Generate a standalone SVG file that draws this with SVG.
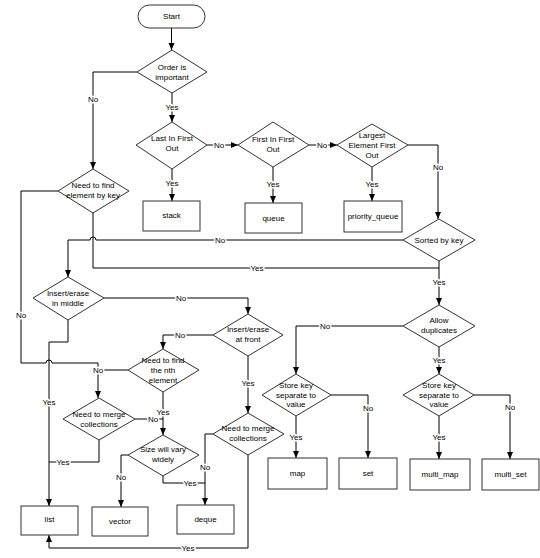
<svg xmlns="http://www.w3.org/2000/svg" width="540" height="558" viewBox="0 0 540 558">
<style>
text{font-family:"Liberation Sans",Arial,sans-serif;font-size:8px;fill:#000;text-anchor:middle}
.s{fill:#fff;stroke:#333;stroke-width:1}
.c{fill:none;stroke:#000;stroke-width:1}
.a{marker-end:url(#ah)}
.l{paint-order:stroke;stroke:#fff;stroke-width:3px;stroke-linejoin:round}
</style>
<defs>
<marker id="ah" markerUnits="userSpaceOnUse" markerWidth="7" markerHeight="7" viewBox="0 0 7 7" refX="7" refY="3.5" orient="auto">
<path d="M0,0.5 L7,3.5 L0,6.5 Z" fill="#000"/>
</marker>
</defs>
<rect width="540" height="558" fill="#fff"/>
<g id="connectors">
<path class="c a" d="M171.5 28 V50"/>
<path class="c a" d="M137 72 H93 V169"/>
<path class="c a" d="M172 93 V122"/>
<path class="c a" d="M207 145 H238"/>
<path class="c a" d="M309 145 H337"/>
<path class="c a" d="M408 145 H438 V219"/>
<path class="c a" d="M172 169 V201"/>
<path class="c a" d="M273 167 V203"/>
<path class="c a" d="M372 167 V201"/>
<path class="c a" d="M403 240 H96 A3 3 0 0 0 90 240 H68 V277"/>
<path class="c" d="M93 213 V268 H439"/>
<path class="c a" d="M439 261 V305"/>
<path class="c a" d="M58 191 H21 V363 H46 A3 3 0 0 1 52 363 H98 V398"/>
<path class="c a" d="M403 326 H296 V374"/>
<path class="c a" d="M439 347 V374"/>
<path class="c a" d="M296 416 V458"/>
<path class="c a" d="M331 395 H368 V458"/>
<path class="c a" d="M439 416 V459"/>
<path class="c a" d="M474 395 H510 V459"/>
<path class="c a" d="M104 298 H248 V314"/>
<path class="c a" d="M68 320 V342 H49 V506"/>
<path class="c a" d="M213 335 H163 V349"/>
<path class="c a" d="M248 356 V413"/>
<path class="c" d="M128 370 H98"/>
<path class="c a" d="M163 392 V435"/>
<path class="c" d="M135 419 H163"/>
<path class="c" d="M99 440 V462 H49"/>
<path class="c a" d="M128 455 H121 V507"/>
<path class="c" d="M163 476 V483 H205"/>
<path class="c a" d="M213 434 H205 V505"/>
<path class="c a" d="M248 455 V548 H49 V535"/>
<text class="l" x="93" y="102">No</text>
<text class="l" x="172" y="110">Yes</text>
<text class="l" x="219" y="148">No</text>
<text class="l" x="322" y="148">No</text>
<text class="l" x="438" y="170">No</text>
<text class="l" x="172" y="186">Yes</text>
<text class="l" x="273" y="187">Yes</text>
<text class="l" x="372" y="187">Yes</text>
<text class="l" x="220" y="243">No</text>
<text class="l" x="257" y="271">Yes</text>
<text class="l" x="439" y="285">Yes</text>
<text class="l" x="21" y="318">No</text>
<text class="l" x="325" y="329">No</text>
<text class="l" x="439" y="363">Yes</text>
<text class="l" x="296" y="440">Yes</text>
<text class="l" x="368" y="411">No</text>
<text class="l" x="439" y="440">Yes</text>
<text class="l" x="510" y="410">No</text>
<text class="l" x="181" y="301">No</text>
<text class="l" x="49" y="405">Yes</text>
<text class="l" x="180" y="338">No</text>
<text class="l" x="248" y="386">Yes</text>
<text class="l" x="98" y="373">No</text>
<text class="l" x="163" y="415">Yes</text>
<text class="l" x="153" y="422">No</text>
<text class="l" x="63" y="465">Yes</text>
<text class="l" x="121" y="480">No</text>
<text class="l" x="190" y="486">Yes</text>
<text class="l" x="205" y="470">No</text>
<text class="l" x="188" y="551">Yes</text>
</g>
<g id="start"><rect class="s" x="138" y="5" width="67" height="23" rx="11.5"/><text x="171.5" y="19">Start</text></g>
<g id="order"><polygon class="s" points="172,50 207,72 172,93 137,72"/><text x="172" y="70">Order is</text><text x="172" y="80">important</text></g>
<g id="lifo"><polygon class="s" points="172,122 207,145 172,169 136,145"/><text x="172" y="141">Last In First</text><text x="172" y="151">Out</text></g>
<g id="fifo"><polygon class="s" points="273,122 309,145 273,167 238,145"/><text x="273" y="142">First In First</text><text x="273" y="152">Out</text></g>
<g id="largest"><polygon class="s" points="372,124 408,145 372,167 337,145"/><text x="372" y="138">Largest</text><text x="372" y="148">Element First</text><text x="372" y="158">Out</text></g>
<g id="stack"><rect class="s" x="143" y="201" width="57" height="30"/><text x="171.5" y="218">stack</text></g>
<g id="queue"><rect class="s" x="245" y="203" width="57" height="30"/><text x="273.5" y="221">queue</text></g>
<g id="priority_queue"><rect class="s" x="344" y="201" width="58" height="31"/><text x="373" y="219">priority_queue</text></g>
<g id="find_key"><polygon class="s" points="93,169 129,191 93,213 58,191"/><text x="93" y="188">Need to find</text><text x="93" y="198">element by key</text></g>
<g id="sorted"><polygon class="s" points="439,219 475,240 439,261 403,240"/><text x="439" y="243">Sorted by key</text></g>
<g id="allow_dup"><polygon class="s" points="439,305 475,326 439,347 403,326"/><text x="439" y="323">Allow</text><text x="439" y="333">duplicates</text></g>
<g id="store_l"><polygon class="s" points="296,374 331,395 296,416 262,395"/><text x="296" y="388">Store key</text><text x="296" y="398">separate to</text><text x="296" y="407">value</text></g>
<g id="store_r"><polygon class="s" points="439,374 474,395 439,416 403,395"/><text x="439" y="388">Store key</text><text x="439" y="398">separate to</text><text x="439" y="407">value</text></g>
<g id="map"><rect class="s" x="268" y="458" width="59" height="31"/><text x="297.5" y="476">map</text></g>
<g id="set"><rect class="s" x="339" y="458" width="58" height="31"/><text x="368" y="476">set</text></g>
<g id="multi_map"><rect class="s" x="410" y="459" width="60" height="31"/><text x="440" y="477">multi_map</text></g>
<g id="multi_set"><rect class="s" x="482" y="459" width="57" height="31"/><text x="510.5" y="477">multi_set</text></g>
<g id="insert_middle"><polygon class="s" points="68,277 104,298 68,320 33,298"/><text x="68" y="296">Insert/erase</text><text x="68" y="306">in middle</text></g>
<g id="insert_front"><polygon class="s" points="248,314 283,335 248,356 213,335"/><text x="248" y="332">Insert/erase</text><text x="248" y="342">at front</text></g>
<g id="nth"><polygon class="s" points="163,349 199,370 163,392 128,370"/><text x="163" y="363">Need to find</text><text x="163" y="373">the nth</text><text x="163" y="383">element</text></g>
<g id="merge_l"><polygon class="s" points="99,398 135,419 99,440 63,419"/><text x="99" y="417">Need to merge</text><text x="99" y="427">collections</text></g>
<g id="size"><polygon class="s" points="163,435 199,455 163,476 128,455"/><text x="163" y="452">Size will vary</text><text x="163" y="462">widely</text></g>
<g id="merge_r"><polygon class="s" points="248,413 284,434 248,455 213,434"/><text x="248" y="431">Need to merge</text><text x="248" y="441">collections</text></g>
<g id="list"><rect class="s" x="21" y="506" width="57" height="29"/><text x="49.5" y="522">list</text></g>
<g id="vector"><rect class="s" x="92" y="507" width="56" height="29"/><text x="120" y="524">vector</text></g>
<g id="deque"><rect class="s" x="177" y="505" width="57" height="29"/><text x="205.5" y="522">deque</text></g>
</svg>
